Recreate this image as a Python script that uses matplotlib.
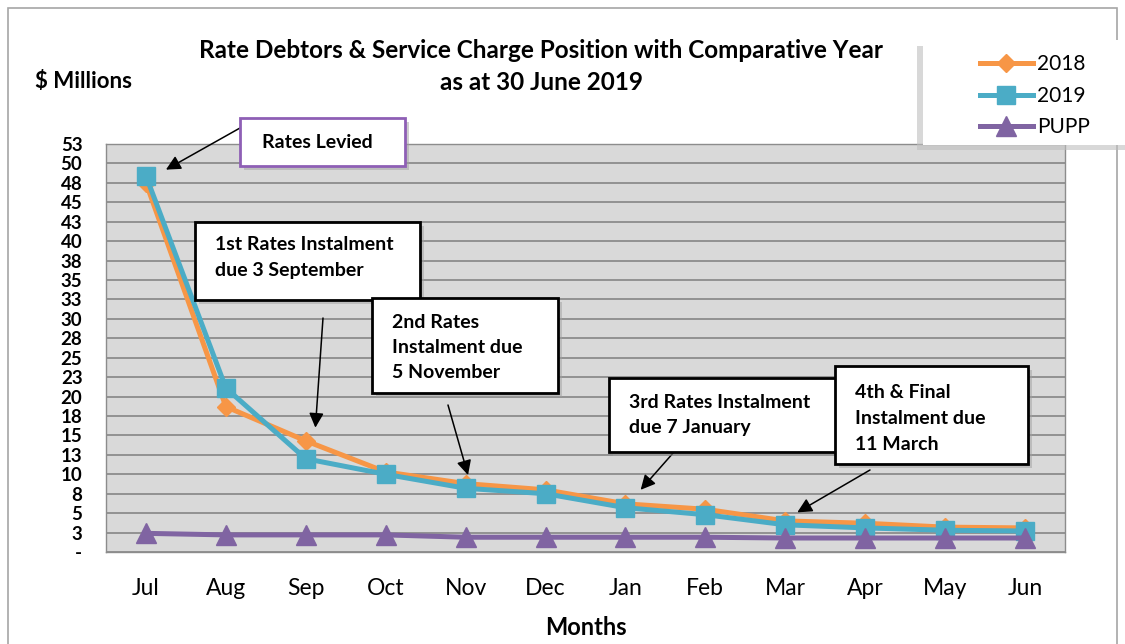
import matplotlib.pyplot as plt
from matplotlib.patches import Rectangle

# Data ($ millions)
months = ['Jul', 'Aug', 'Sep', 'Oct', 'Nov', 'Dec', 'Jan', 'Feb', 'Mar', 'Apr', 'May', 'Jun']
y2018 = [47.5, 18.7, 14.3, 10.3, 8.8, 8.0, 6.2, 5.5, 4.0, 3.7, 3.2, 3.1]
y2019 = [48.4, 21.1, 12.0, 10.0, 8.2, 7.5, 5.7, 4.8, 3.5, 3.1, 2.8, 2.7]
pupp = [2.4, 2.2, 2.2, 2.2, 1.9, 1.9, 1.9, 1.9, 1.8, 1.8, 1.8, 1.8]

ytick_vals = [i * 2.5 for i in range(22)]
ytick_labels = ['-', '3', '5', '8', '10', '13', '15', '18', '20', '23', '25',
                '28', '30', '33', '35', '38', '40', '43', '45', '48', '50', '53']

plt.rcParams['font.family'] = ['Lato', 'DejaVu Sans']

W, H = 1125, 644
fig = plt.figure(figsize=(W / 100, H / 100), dpi=100, facecolor='white')


def fx(px):
    return px / W


def fy(py):
    return 1 - py / H


# outer chart border
fig.add_artist(Rectangle((fx(8), fy(700)), fx(1117) - fx(8), fy(8) - fy(700),
                         transform=fig.transFigure, fill=False, edgecolor='#a6a6a6', lw=1.2))

ax = fig.add_axes([fx(106), fy(552), fx(1065) - fx(106), fy(144) - fy(552)])
ax.set_facecolor('#d9d9d9')
x = list(range(len(months)))

ax.plot(x, y2018, color='#f79646', lw=3.6, marker='D', ms=9, label='2018', zorder=3)
ax.plot(x, y2019, color='#4bacc6', lw=3.6, marker='s', ms=13, label='2019', zorder=4)
ax.plot(x, pupp, color='#8064a2', lw=3.6, marker='^', ms=14, label='PUPP', zorder=5)

ax.set_xlim(-0.5, 11.5)
ax.set_ylim(0, 52.5)
ax.set_yticks(ytick_vals)
ax.set_yticklabels(ytick_labels, fontsize=13.5, fontweight='bold')
ax.set_xticks(x)
ax.set_xticklabels(months, fontsize=16.5)
ax.tick_params(axis='y', length=0, pad=17)
ax.tick_params(axis='x', length=0, pad=19)
ax.grid(axis='y', color='#8c8c8c', lw=1.3)
ax.set_axisbelow(True)
for s in ax.spines.values():
    s.set_color('#8c8c8c')
    s.set_linewidth(1)

ax.set_xlabel('Months', fontsize=17, fontweight='bold', labelpad=12)

# titles
fig.text(fx(541), fy(50), 'Rate Debtors & Service Charge Position with Comparative Year',
         ha='center', va='center', fontsize=17.5, fontweight='bold')
fig.text(fx(541), fy(82), 'as at 30 June 2019', ha='center', va='center',
         fontsize=17.5, fontweight='bold')
fig.text(fx(35), fy(82), '$ Millions', ha='left', va='center', fontsize=16, fontweight='bold')

# legend box with shadow
fig.add_artist(Rectangle((fx(917), fy(150)), fx(1125) - fx(917), fy(46) - fy(150),
                         transform=fig.transFigure, facecolor='#bfbfbf', edgecolor='none', alpha=0.6))
fig.add_artist(Rectangle((fx(923), fy(145)), fx(1130) - fx(923), fy(40) - fy(145),
                         transform=fig.transFigure, facecolor='white', edgecolor='none'))
fig.legend(loc='upper left', bbox_to_anchor=(fx(970), fy(44)), frameon=False,
           fontsize=15, borderpad=0, handlelength=2.5, handletextpad=0.2,
           labelspacing=0.55)


def note(lines, x0, y0, x1, y1, tx, ty0, dy, color='black'):
    fig.add_artist(Rectangle((fx(x0 + 4), fy(y1 + 4)), fx(x1) - fx(x0), fy(y0) - fy(y1),
                             transform=fig.transFigure, facecolor='#a0a0a0',
                             edgecolor='none', alpha=0.5, zorder=10))
    fig.add_artist(Rectangle((fx(x0), fy(y1)), fx(x1) - fx(x0), fy(y0) - fy(y1),
                             transform=fig.transFigure, facecolor='white',
                             edgecolor=color, lw=2, zorder=11))
    for i, t in enumerate(lines):
        fig.text(fx(tx), fy(ty0 + i * dy), t, ha='left', va='center',
                 fontsize=14, fontweight='bold', zorder=12)


def arrow(px, py, xd, yd):
    ax.annotate('', xy=(xd, yd), xycoords='data',
                xytext=(fx(px), fy(py)), textcoords='figure fraction',
                arrowprops=dict(arrowstyle='-|>', color='black', lw=1.1,
                                mutation_scale=22, shrinkA=0, shrinkB=0),
                annotation_clip=False, zorder=9)


note(['Rates Levied'], 240, 118, 405, 166, 262, 142, 0, color='#8e5fb5')
arrow(240, 128, 0.25, 49.2)

note(['1st Rates Instalment', 'due 3 September'], 195, 222, 420, 300, 215, 245, 26)
arrow(323, 318, 2.12, 16.0)

note(['2nd Rates', 'Instalment due', '5 November'], 372, 298, 558, 393, 392, 322, 25)
arrow(448, 405, 4.03, 9.9)

note(['3rd Rates Instalment', 'due 7 January'], 609, 378, 836, 452, 629, 403, 25)
arrow(674, 452, 6.19, 8.0)

note(['4th & Final', 'Instalment due', '11 March'], 835, 366, 1028, 464, 855, 392, 26)
arrow(870, 470, 8.15, 5.1)

plt.savefig('out.png', dpi=100, facecolor='white')
plt.close()
